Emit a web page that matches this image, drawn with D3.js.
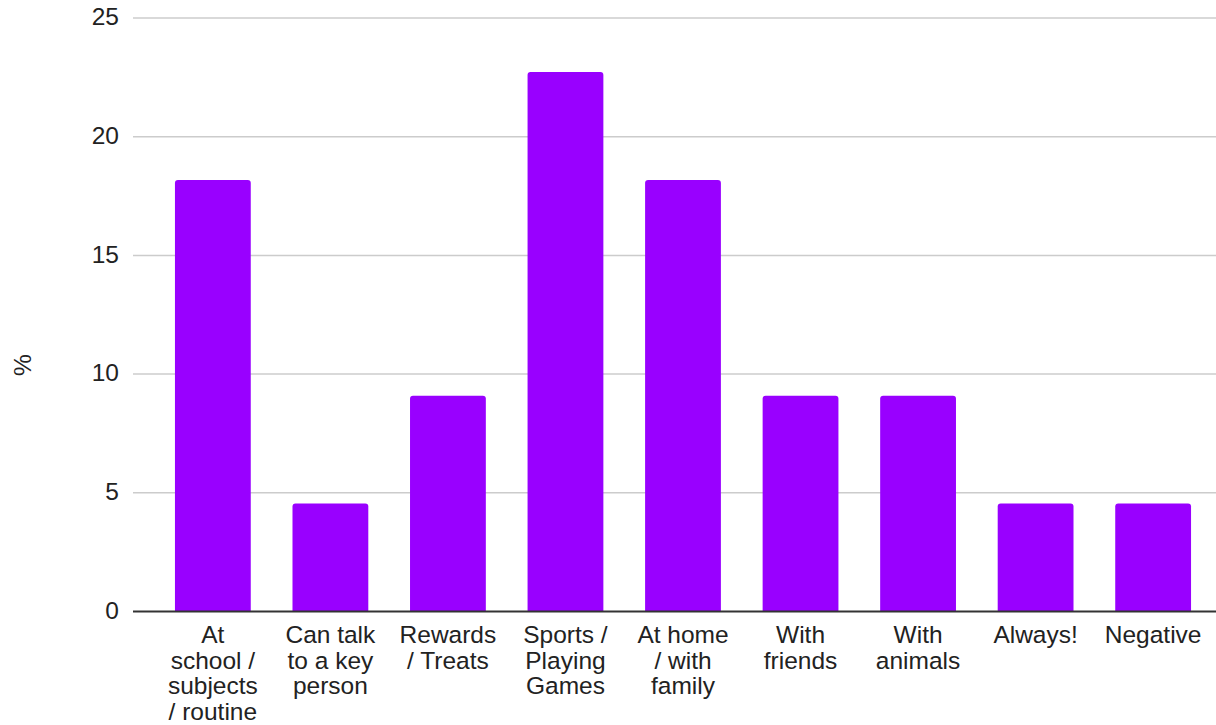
<!DOCTYPE html>
<html>
<head>
<meta charset="utf-8">
<script src="https://cdn.jsdelivr.net/npm/d3@7"></script>
<style>
  html, body { margin: 0; padding: 0; background: #fff; }
  svg { display: block; font-family: "Liberation Sans", Arial, sans-serif; }
</style>
</head>
<body>
<svg id="chart" width="1216" height="725"></svg>
<script>
// Share of responses per category (%)
const categories = [
  ["At", "school /", "subjects", "/ routine"],
  ["Can talk", "to a key", "person"],
  ["Rewards", "/ Treats"],
  ["Sports /", "Playing", "Games"],
  ["At home", "/ with", "family"],
  ["With", "friends"],
  ["With", "animals"],
  ["Always!"],
  ["Negative"]
];
const values = [18.18, 4.55, 9.09, 22.73, 18.18, 9.09, 9.09, 4.55, 4.55];
const yTicks = [0, 5, 10, 15, 20, 25];
const yTitle = "%";

const svg = d3.select("#chart");
const gridLeft = 133, gridRight = 1216;
const plotTop = 18, plotBottom = 611.5;
const fontSize = 24.5;

const keys = categories.map((c, i) => i);
const x = d3.scaleBand()
  .domain(keys)
  .range([153.8, 1212.2])
  .paddingInner(0.355)
  .paddingOuter(0.18);

const y = d3.scaleLinear().domain([0, 25]).range([plotBottom, plotTop]);

// horizontal gridlines
svg.append("g")
  .selectAll("line")
  .data(yTicks.filter(t => t !== 0))
  .join("line")
  .attr("x1", gridLeft).attr("x2", gridRight)
  .attr("y1", d => y(d)).attr("y2", d => y(d))
  .attr("stroke", "#cccccc")
  .attr("stroke-width", 1.5);

// y tick labels
const yAxis = d3.axisLeft(y).tickValues(yTicks).tickSize(0).tickPadding(0);
const yg = svg.append("g").attr("transform", `translate(119,0)`).call(yAxis);
yg.select(".domain").remove();
yg.selectAll("text")
  .attr("font-size", fontSize)
  .attr("dy", "0.28em")
  .attr("fill", "#222")
  .attr("font-family", "Liberation Sans, Arial, sans-serif");

// bars with slightly rounded top corners
const r = 3;
function barPath(x0, w, yTop, yBase) {
  return `M${x0},${yBase}V${yTop + r}Q${x0},${yTop} ${x0 + r},${yTop}` +
         `H${x0 + w - r}Q${x0 + w},${yTop} ${x0 + w},${yTop + r}V${yBase}Z`;
}
svg.append("g")
  .selectAll("path")
  .data(values)
  .join("path")
  .attr("d", (d, i) => barPath(x(i), x.bandwidth(), y(d), y(0)))
  .attr("fill", "#9900ff");

// baseline
svg.append("line")
  .attr("x1", gridLeft).attr("x2", gridRight)
  .attr("y1", y(0)).attr("y2", y(0))
  .attr("stroke", "#333")
  .attr("stroke-width", 2);

// category labels (multi-line)
const xg = svg.append("g");
categories.forEach((lines, i) => {
  const cx = x(i) + x.bandwidth() / 2;
  const t = xg.append("text")
    .attr("x", cx)
    .attr("y", 643)
    .attr("text-anchor", "middle")
    .attr("font-size", fontSize)
    .attr("fill", "#222");
  lines.forEach((ln, j) => {
    t.append("tspan")
      .attr("x", cx)
      .attr("dy", j === 0 ? 0 : 25.5)
      .text(ln);
  });
});

// y axis title
svg.append("text")
  .attr("transform", `translate(31,365) rotate(-90)`)
  .attr("text-anchor", "middle")
  .attr("font-size", fontSize)
  .attr("fill", "#222")
  .text(yTitle);
</script>
</body>
</html>
